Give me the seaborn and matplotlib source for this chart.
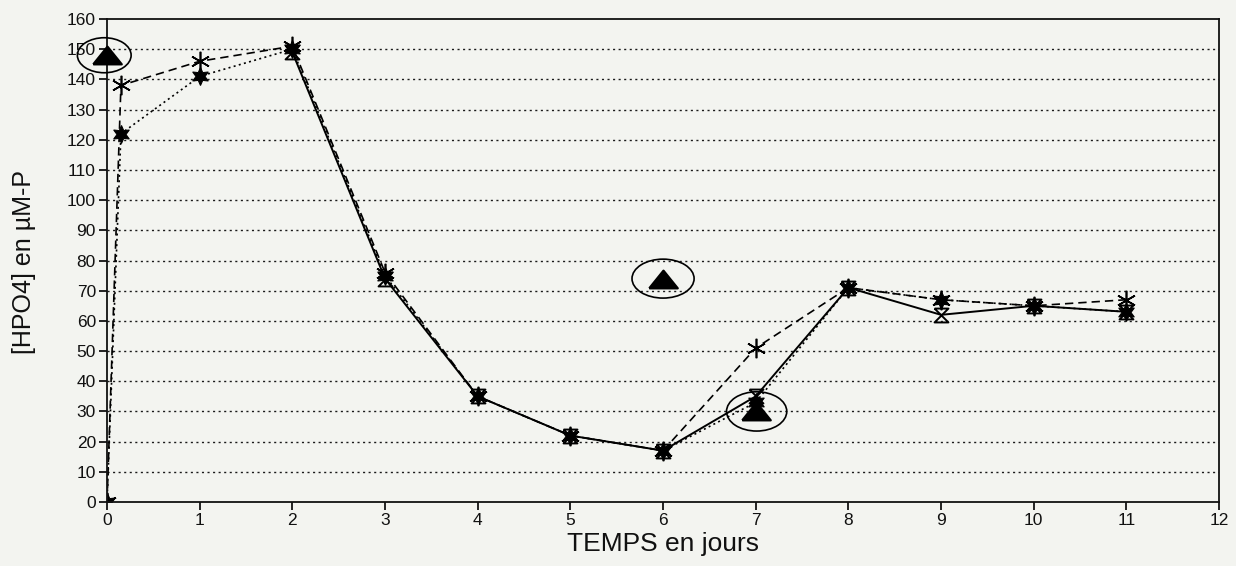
import numpy as np
import pandas as pd
import matplotlib
matplotlib.use("Agg")
import matplotlib.pyplot as plt
from matplotlib.patches import Ellipse
import seaborn as sns

# ---- data ----
days_ab = [0, 0.15, 1, 2, 3, 4, 5, 6, 7, 8, 9, 10, 11]
serie_a = [0, 138, 146, 151, 76, 35, 22, 17, 51, 71, 67, 65, 67]   # dashed, asterisks
serie_b = [0, 122, 141, 150, 75, 35, 22, 17, 33, 71, 67, 65, 63]   # dotted, filled stars
days_c = [2, 3, 4, 5, 6, 7, 8, 9, 10, 11]
serie_c = [149, 74, 35, 22, 17, 35, 71, 62, 65, 63]                 # solid, hourglass
tri_days = [0, 6, 7]
tri_vals = [148, 74, 30]
x_ticks = list(range(0, 13))
y_ticks = list(range(0, 161, 10))

sns.set_style("ticks")
plt.rcParams['font.family'] = ['Liberation Sans', 'DejaVu Sans']

bg = '#f3f4f0'
fig = plt.figure(figsize=(12.36, 5.66), dpi=100, facecolor=bg)
ax = fig.add_axes([0.0866, 0.1131, 0.8997, 0.8533])
ax.set_facecolor(bg)

hourglass = [(-1, 1), (1, 1), (-1, -1), (1, -1), (-1, 1)]
flat_triangle = [(-1, -0.62), (1, -0.62), (0, 0.62), (-1, -0.62)]

sns.lineplot(x=days_ab, y=serie_a, ax=ax, color='black', linewidth=1.2,
             linestyle=(0, (5, 3)), marker=(6, 2, 0), markersize=14,
             markeredgewidth=1.2, markeredgecolor='black', sort=False)
sns.lineplot(x=days_ab, y=serie_b, ax=ax, color='black', linewidth=1.2,
             linestyle=(0, (1.2, 2)), marker=(6, 1, 0), markersize=13,
             markeredgecolor='black', markerfacecolor='black', sort=False)
sns.lineplot(x=days_c, y=serie_c, ax=ax, color='black', linewidth=1.4,
             linestyle='-', marker=hourglass, markersize=10, markeredgewidth=1.4,
             markerfacecolor='none', markeredgecolor='black', sort=False)
sns.scatterplot(x=tri_days, y=tri_vals, ax=ax, marker=flat_triangle, s=420,
                color='black', edgecolor='black', zorder=5, clip_on=False)

ell_dx = [-0.03, 0.0, 0.01]
ell_w = [0.58, 0.67, 0.65]
ell_h = [11.6, 12.9, 13]
for xd, yv, dx, w, h in zip(tri_days, tri_vals, ell_dx, ell_w, ell_h):
    ax.add_patch(Ellipse((xd + dx, yv), w, h, fill=False, edgecolor='black',
                         linewidth=1.2, zorder=6, clip_on=False))

ax.set_xlim(0, 12)
ax.set_ylim(0, 160)
ax.set_xticks(x_ticks)
ax.set_yticks(y_ticks)
ax.set_xticklabels([str(t) for t in x_ticks], fontsize=12.5)
ax.set_yticklabels([str(t) for t in y_ticks], fontsize=12.5)
ax.tick_params(axis='both', direction='out', length=6, width=1.2, color='black',
               labelcolor='#111111', pad=2)

for yv in y_ticks[1:-1]:
    ax.axhline(yv, color='#1a1a1a', linewidth=1.0, linestyle=(0, (1.5, 2.5)), zorder=1)

for sp in ax.spines.values():
    sp.set_visible(True)
    sp.set_color('#111111')
    sp.set_linewidth(1.3)

ax.set_xlabel('TEMPS en jours', fontsize=19, color='#111111')
ax.set_ylabel('[HPO4] en µM-P', fontsize=18, color='#111111')
ax.xaxis.set_label_coords(0.5, -0.062)
ax.yaxis.set_label_coords(-0.064, 0.496)

fig.savefig('out.png', dpi=100, facecolor=bg)
